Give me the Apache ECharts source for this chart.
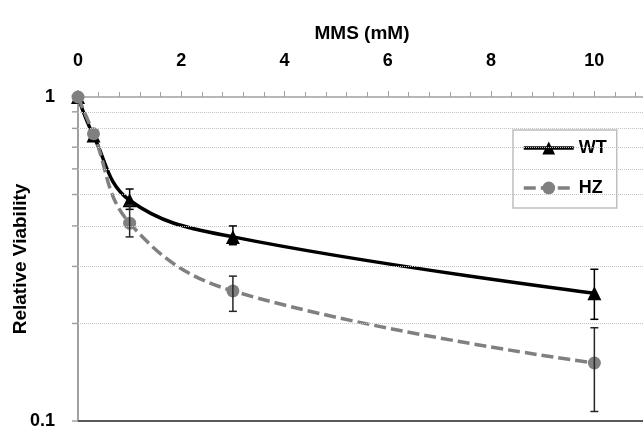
<!DOCTYPE html>
<html>
<head>
<meta charset="utf-8">
<script src="https://cdn.jsdelivr.net/npm/echarts@6/dist/echarts.min.js"></script>
<style>
  html, body { margin: 0; padding: 0; background: #fff; }
  #chart { width: 643px; height: 427px; }
</style>
</head>
<body>
<div id="chart"></div>
<script>
// MMS dose (mM)
const doses = [0, 0.3, 1, 3, 10]
// WT relative viability + error bar ends
const wtMean = [1, 0.76, 0.48, 0.37, 0.248]
const wtLow = [1, 0.76, 0.45, 0.35, 0.206]
const wtHigh = [1, 0.76, 0.52, 0.40, 0.294]
// HZ relative viability + error bar ends
const hzMean = [1, 0.77, 0.408, 0.252, 0.151]
const hzLow = [1, 0.77, 0.37, 0.218, 0.107]
const hzHigh = [1, 0.77, 0.464, 0.28, 0.194]
// dotted minor grid on the log axis
const minorGrid = [0.2, 0.3, 0.4, 0.5, 0.6, 0.7, 0.8, 0.9]

const font = 'Liberation Sans, Arial, sans-serif'

const pairs = (ys) => doses.map((x, i) => [x, ys[i]])
const errRows = (lo, hi) => doses
  .map((x, i) => [x, lo[i], hi[i]])
  .filter(r => r[1] !== r[2])

function errorBar(color) {
  return function (params, api) {
    const top = api.coord([api.value(0), api.value(2)])
    const bot = api.coord([api.value(0), api.value(1)])
    const cap = 4
    const style = { stroke: color, lineWidth: 1.5 }
    return {
      type: 'group',
      children: [
        { type: 'line', shape: { x1: top[0], y1: top[1], x2: bot[0], y2: bot[1] }, style },
        { type: 'line', shape: { x1: top[0] - cap, y1: top[1], x2: top[0] + cap, y2: top[1] }, style },
        { type: 'line', shape: { x1: bot[0] - cap, y1: bot[1], x2: bot[0] + cap, y2: bot[1] }, style },
      ],
    }
  }
}

const chart = echarts.init(document.getElementById('chart'))
chart.setOption({
  animation: false,
  textStyle: { fontFamily: font },
  grid: { left: 78, top: 97, width: 568, height: 324, outerBoundsMode: 'none', containLabel: false },
  legend: {
    orient: 'vertical',
    left: 513,
    top: 130,
    padding: [9, 10, 11, 9],
    itemGap: 22,
    itemWidth: 50,
    itemHeight: 16,
    borderColor: '#bfbfbf',
    borderWidth: 1.5,
    lineStyle: { width: 3.5 },
    textStyle: { fontSize: 18, fontWeight: 'bold', color: '#000', fontFamily: font },
    data: ['WT', 'HZ'],
  },
  xAxis: {
    type: 'value',
    position: 'top',
    min: 0,
    max: 11,
    interval: 2,
    name: 'MMS (mM)',
    nameLocation: 'middle',
    nameGap: 54,
    nameMoveOverlap: false,
    nameTextStyle: { fontSize: 19, fontWeight: 'bold', color: '#000' },
    axisLine: { lineStyle: { color: '#a0a0a0', width: 1.5 } },
    axisTick: { length: 6, lineStyle: { color: '#a0a0a0' } },
    minorTick: { show: true, splitNumber: 5, length: 5, lineStyle: { color: '#a0a0a0' } },
    splitLine: { show: false },
    axisLabel: {
      fontSize: 18, fontWeight: 'bold', color: '#000', margin: 27,
      showMaxLabel: false,
    },
  },
  yAxis: {
    type: 'log',
    logBase: 10,
    min: 0.1,
    max: 1,
    name: 'Relative Viability',
    nameLocation: 'middle',
    nameGap: 48,
    nameMoveOverlap: false,
    nameTextStyle: { fontSize: 19, fontWeight: 'bold', color: '#000' },
    axisLine: { lineStyle: { color: '#a0a0a0', width: 2 } },
    axisTick: { show: false },
    splitLine: { show: false },
    axisLabel: { fontSize: 18, fontWeight: 'bold', color: '#000', margin: 23 },
  },
  series: [
    {
      // small ticks on the y axis + dotted grid lines
      type: 'custom',
      z: 1,
      silent: true,
      data: minorGrid.concat([0.1]).map(v => [0, v]),
      renderItem: function (params, api) {
        const p = api.coord([api.value(0), api.value(1)])
        return {
          type: 'line',
          shape: { x1: p[0] - 6, y1: p[1], x2: p[0], y2: p[1] },
          style: { stroke: '#a0a0a0', lineWidth: 1.5 },
        }
      },
      markLine: {
        silent: true,
        symbol: ['none', 'none'],
        label: { show: false },
        lineStyle: { color: '#c4c4c4', type: [1, 1], width: 1 },
        data: minorGrid.map(v => ({ yAxis: v })).concat([
          { yAxis: 0.1, lineStyle: { color: '#595959', type: 'solid', width: 2 } },
        ]),
      },
    },
    {
      name: 'WT',
      type: 'line',
      z: 3,
      data: pairs(wtMean),
      smooth: 0.4,
      symbol: 'triangle',
      symbolSize: 14,
      itemStyle: { color: '#000' },
      lineStyle: { color: '#000', width: 3.5 },
    },
    {
      name: 'HZ',
      type: 'line',
      z: 4,
      data: pairs(hzMean),
      smooth: 0.4,
      symbol: 'circle',
      symbolSize: 13,
      itemStyle: { color: '#808080' },
      lineStyle: { color: '#808080', width: 3.5, type: [12, 5] },
    },
    {
      type: 'custom',
      z: 5,
      silent: true,
      data: errRows(wtLow, wtHigh),
      renderItem: errorBar('#000'),
    },
    {
      type: 'custom',
      z: 5,
      silent: true,
      data: errRows(hzLow, hzHigh),
      renderItem: errorBar('#262626'),
    },
  ],
})
</script>
</body>
</html>
